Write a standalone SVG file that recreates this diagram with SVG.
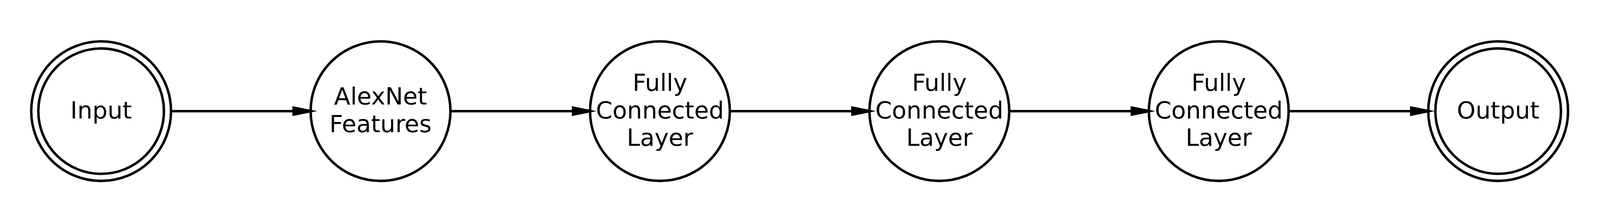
<svg xmlns="http://www.w3.org/2000/svg" width="4509" height="572" viewBox="0 0 4509 572">
<style>
svg{width:100vw;height:100vh}
.n{fill:none;stroke:#000;stroke-width:7}
.t{font-family:"DejaVu Sans",sans-serif;font-size:67px;fill:#000;text-anchor:middle}
.e{stroke:#000;stroke-width:7;fill:none}
.h{fill:#000;stroke:none}
</style>
<rect width="4509" height="572" fill="#fff"/>
<g id="edges">
<line class="e" x1="482" y1="285" x2="826" y2="285"/>
<polygon class="h" points="824,271 894,285 824,299"/>
<line class="e" x1="1269.4" y1="285" x2="1613.4" y2="285"/>
<polygon class="h" points="1611.4,271 1681.4,285 1611.4,299"/>
<line class="e" x1="2056.8" y1="285" x2="2400.8" y2="285"/>
<polygon class="h" points="2398.8,271 2468.8,285 2398.8,299"/>
<line class="e" x1="2844.2" y1="285" x2="3188.2" y2="285"/>
<polygon class="h" points="3186.2,271 3256.2,285 3186.2,299"/>
<line class="e" x1="3631.6" y1="285" x2="3975.6" y2="285"/>
<polygon class="h" points="3973.6,271 4043.6,285 3973.6,299"/>
</g>
<g id="input">
<circle class="n" cx="285" cy="285" r="197"/>
<circle class="n" cx="285" cy="285" r="177"/>
<text class="t" x="285" y="306">Input</text>
</g>
<g id="alexnet">
<circle class="n" cx="1072.4" cy="285" r="197"/>
<text class="t" x="1072.4" y="266.5">AlexNet</text>
<text class="t" x="1072.4" y="344">Features</text>
</g>
<g id="fc1">
<circle class="n" cx="1859.8" cy="285" r="197"/>
<text class="t" x="1859.8" y="228">Fully</text>
<text class="t" x="1859.8" y="305.5">Connected</text>
<text class="t" x="1859.8" y="383">Layer</text>
</g>
<g id="fc2">
<circle class="n" cx="2647.2" cy="285" r="197"/>
<text class="t" x="2647.2" y="228">Fully</text>
<text class="t" x="2647.2" y="305.5">Connected</text>
<text class="t" x="2647.2" y="383">Layer</text>
</g>
<g id="fc3">
<circle class="n" cx="3434.6" cy="285" r="197"/>
<text class="t" x="3434.6" y="228">Fully</text>
<text class="t" x="3434.6" y="305.5">Connected</text>
<text class="t" x="3434.6" y="383">Layer</text>
</g>
<g id="output">
<circle class="n" cx="4222" cy="285" r="197"/>
<circle class="n" cx="4222" cy="285" r="177"/>
<text class="t" x="4222" y="306">Output</text>
</g>
</svg>
